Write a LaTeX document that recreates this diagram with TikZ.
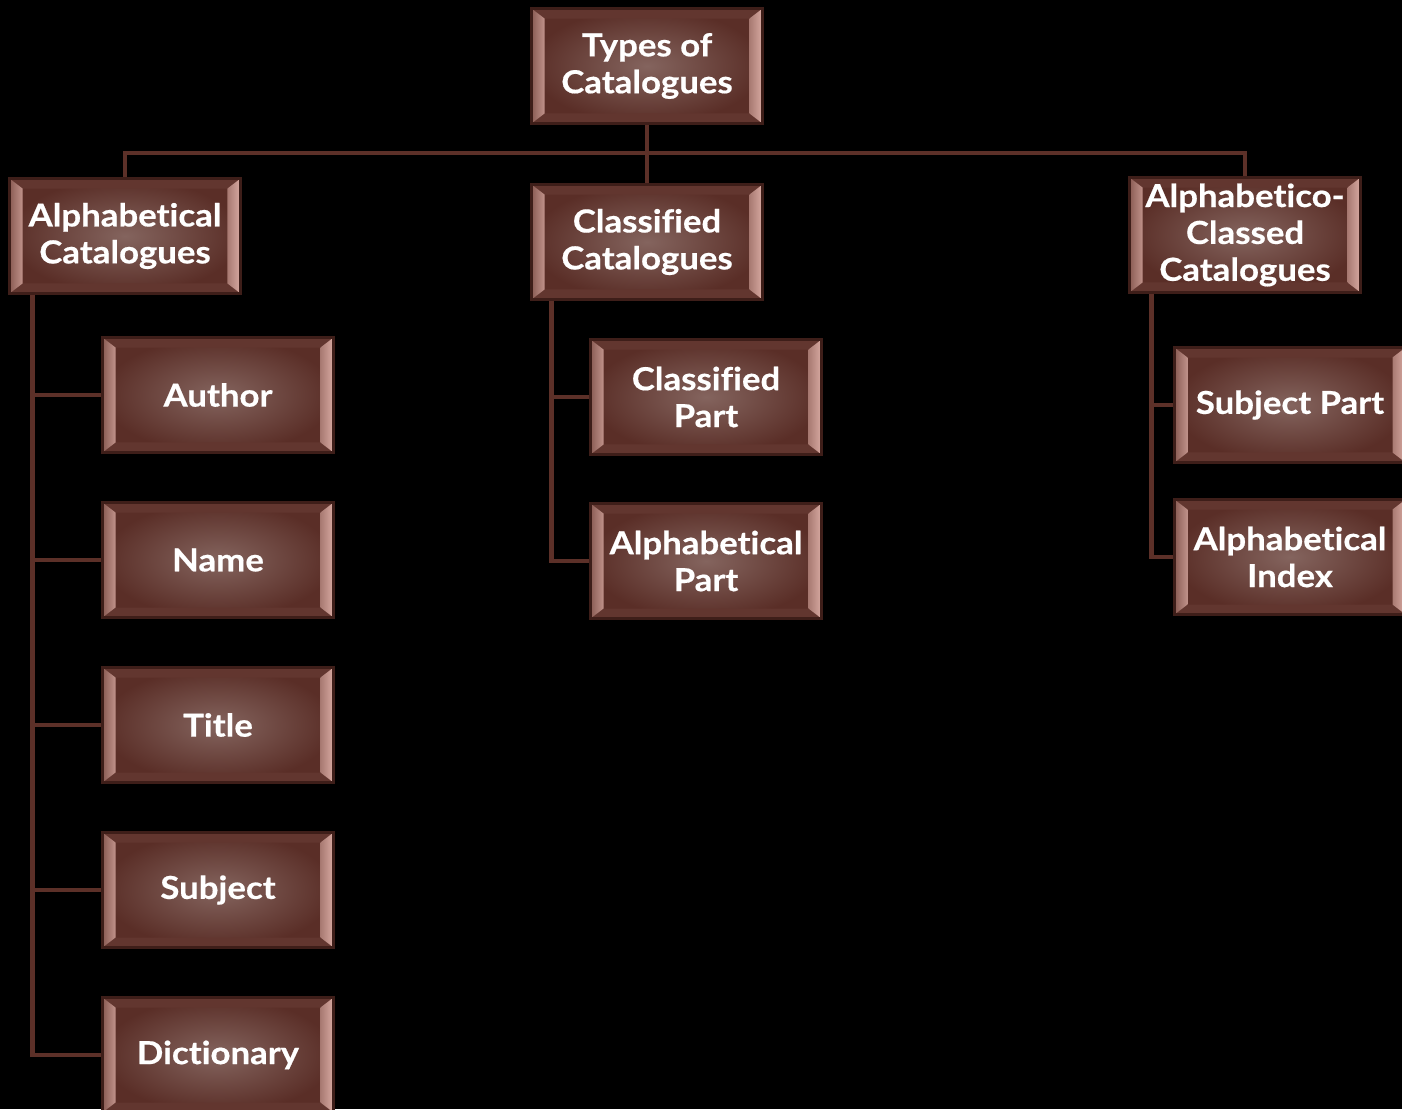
\documentclass[tikz,border=0pt]{standalone}
\usepackage{fontspec}
\setmainfont{Lato}[Ligatures=NoCommon, BoldFeatures={FakeStretch=1.1, FakeBold=0.5}]
\usetikzlibrary{positioning}
\definecolor{fondo}{HTML}{000000}
\definecolor{linea}{HTML}{5C3028}
\definecolor{cajaclara}{HTML}{84645E}
\definecolor{cajaoscura}{HTML}{5A2E27}
\definecolor{borde}{HTML}{3E1E19}
\definecolor{biselA}{HTML}{8A5C54}
\definecolor{biselB}{HTML}{C0928A}
\definecolor{biselC}{HTML}{A87A72}
\definecolor{biselD}{HTML}{D8AAA2}
\definecolor{biselE}{HTML}{62362F}
\tikzset{
  caja/.style={draw=borde, line width=1.2pt, inner color=cajaclara, outer color=cajaoscura,
    minimum width=4.62cm, minimum height=2.3cm, text=white, align=center,
    font=\fontsize{18}{21}\selectfont\bfseries,
    path picture={
      \coordinate (sw) at (path picture bounding box.south west);
      \coordinate (ne) at (path picture bounding box.north east);
      \coordinate (nw) at (sw |- ne);
      \coordinate (se) at (ne |- sw);
      \fill[biselE] (nw) -- (ne) -- ([shift={(-0.26cm,-0.2cm)}]ne) -- ([shift={(0.26cm,-0.2cm)}]nw) -- cycle;
      \fill[biselE] (sw) -- (se) -- ([shift={(-0.26cm,0.2cm)}]se) -- ([shift={(0.26cm,0.2cm)}]sw) -- cycle;
      \shade[left color=biselA, right color=biselB] (sw) -- (nw) -- ([shift={(0.26cm,-0.2cm)}]nw) -- ([shift={(0.26cm,0.2cm)}]sw) -- cycle;
      \shade[left color=biselC, right color=biselD] (se) -- (ne) -- ([shift={(-0.26cm,-0.2cm)}]ne) -- ([shift={(-0.26cm,0.2cm)}]se) -- cycle;
    }},
  rama/.style={draw=linea, line width=2.4pt}
}
\begin{document}
\begin{tikzpicture}[x=0.02cm, y=-0.02cm]
	%fondo negro
	\fill[fondo] (0,0) rectangle (1402,1109);
	\useasboundingbox (0,0) rectangle (1402,1109);

	%caja principal
	\node[caja] (types) at (647,66) {Types of\\Catalogues};

	%tres ramas
	\node[caja] (alpha) at (125,236) {Alphabetical\\Catalogues};
	\node[caja] (classif) at (647,242) {Classified\\Catalogues};
	\node[caja] (alphaclass) at (1245,235) {Alphabetico-\\Classed\\Catalogues};

	%hijos de Alphabetical
	\node[caja] (author) at (218,395) {Author};
	\node[caja] (name) at (218,560) {Name};
	\node[caja] (title) at (218,725) {Title};
	\node[caja] (subject) at (218,890) {Subject};
	\node[caja] (dictionary) at (218,1055) {Dictionary};

	%hijos de Classified
	\node[caja] (classpart) at (706,397) {Classified\\Part};
	\node[caja] (alphapart) at (706,561) {Alphabetical\\Part};

	%hijos de Alphabetico-Classed
	\node[caja] (subjpart) at (1290,405) {Subject Part};
	\node[caja] (alphaindex) at (1290,557) {Alphabetical\\Index};

	%lineas de arriba
	\coordinate (split) at (647,153);
	\draw[rama] (types.south) -- (classif.north);
	\draw[rama] (split) -| (alpha.north);
	\draw[rama] (split) -| (alphaclass.north);

	%troncos
	\coordinate (ltrunk) at ([xshift=0.48cm]alpha.south west);
	\foreach \c in {author,name,title,subject,dictionary}
		\draw[rama] (ltrunk) |- (\c.west);
	\coordinate (mtrunk) at ([xshift=0.42cm]classif.south west);
	\foreach \c in {classpart,alphapart}
		\draw[rama] (mtrunk) |- (\c.west);
	\coordinate (rtrunk) at ([xshift=0.46cm]alphaclass.south west);
	\foreach \c in {subjpart,alphaindex}
		\draw[rama] (rtrunk) |- (\c.west);
\end{tikzpicture}
\end{document}
